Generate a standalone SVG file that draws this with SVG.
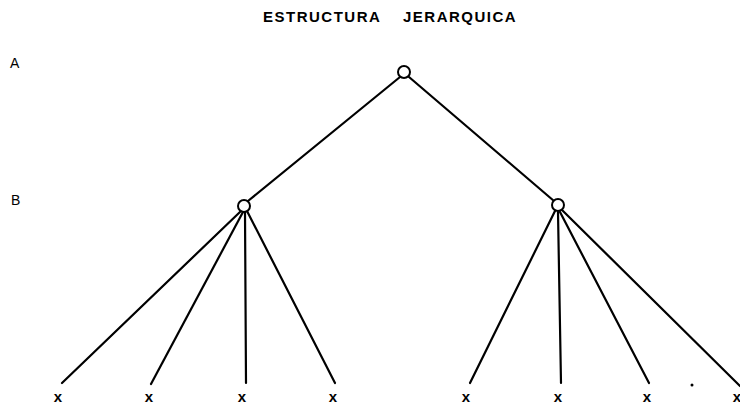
<svg xmlns="http://www.w3.org/2000/svg" width="740" height="406" viewBox="0 0 740 406">
<style>
.t{font-family:"Liberation Sans",Arial,sans-serif;font-weight:bold;fill:#000;font-size:15px;letter-spacing:1.5px}
.lbl{font-family:"Liberation Sans",Arial,sans-serif;fill:#000;font-size:14px}
.x{font-family:"Liberation Sans",Arial,sans-serif;font-weight:bold;fill:#000;font-size:15px;text-anchor:middle}
.e{stroke:#000;stroke-width:2.2;fill:none;stroke-linecap:round}
.n{fill:#fff;stroke:#000;stroke-width:2}
</style>
<rect width="740" height="406" fill="#fff"/>
<text class="t" y="22"><tspan x="263">ESTRUCTURA </tspan><tspan x="403">JERARQUICA</tspan></text>
<text class="lbl" x="10" y="68">A</text>
<text class="lbl" x="11" y="205">B</text>
<g id="connectors">
<line class="e" x1="400" y1="77" x2="248" y2="201"/>
<line class="e" x1="409" y1="77" x2="554" y2="201"/>
<line class="e" x1="241" y1="211" x2="62" y2="383"/>
<line class="e" x1="243" y1="212" x2="151" y2="384"/>
<line class="e" x1="245" y1="212" x2="246" y2="383"/>
<line class="e" x1="247" y1="211" x2="335" y2="383"/>
<line class="e" x1="555" y1="211" x2="470" y2="383"/>
<line class="e" x1="558" y1="212" x2="561" y2="383"/>
<line class="e" x1="560" y1="212" x2="649" y2="383"/>
<line class="e" x1="562" y1="210" x2="740" y2="386"/>
</g>
<g id="root"><circle class="n" cx="404" cy="72" r="6"/></g>
<g id="b-left"><circle class="n" cx="244" cy="206" r="6"/></g>
<g id="b-right"><circle class="n" cx="558" cy="205" r="6"/></g>
<g id="leaf1"><text class="x" x="58" y="402">x</text></g>
<g id="leaf2"><text class="x" x="149" y="402">x</text></g>
<g id="leaf3"><text class="x" x="242" y="402">x</text></g>
<g id="leaf4"><text class="x" x="333" y="402">x</text></g>
<g id="leaf5"><text class="x" x="466" y="402">x</text></g>
<g id="leaf6"><text class="x" x="558" y="402">x</text></g>
<g id="leaf7"><text class="x" x="647" y="402">x</text></g>
<g id="leaf8"><text class="x" x="737" y="402">x</text></g>
<circle cx="692" cy="385" r="1.5" fill="#000"/>
</svg>
